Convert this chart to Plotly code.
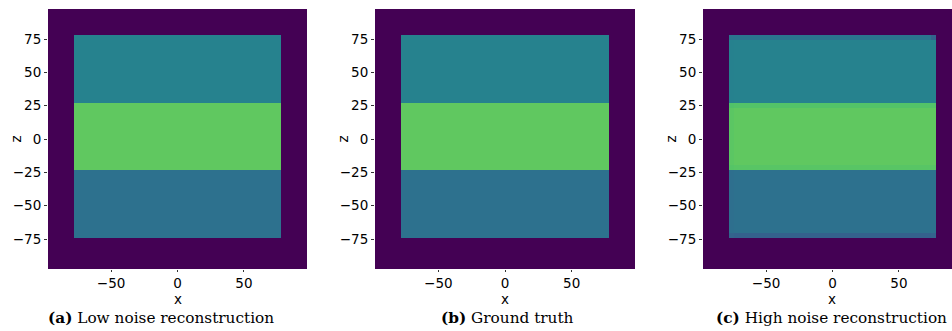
import plotly.graph_objects as go

# ---- data ----
# cell edges (x and z), values are viridis levels (0..1)
x_edges = [-97.5, -78.0, 78.0, 97.5]
z_edges = [-97.5, -74.1, -23.4, 27.3, 78.0, 97.5]
# rows bottom -> top : outside, lower layer, middle layer, upper layer, outside
layer_values_gt = [0.0, 0.37, 0.75, 0.445, 0.0]
layer_values_low = [0.0, 0.37, 0.75, 0.445, 0.0]

# high-noise reconstruction: edge rows/columns deviate slightly
x_edges_high = [-97.5, -78.0, -74.1, 74.1, 78.0, 97.5]
z_edges_high = [-97.5, -74.1, -70.2, -23.4, -19.5, 23.4, 27.3, 74.1, 78.0, 97.5]
high_rows = [
    [0.0, 0.0, 0.0, 0.0, 0.0],
    [0.0, 0.32, 0.31, 0.32, 0.0],
    [0.0, 0.365, 0.37, 0.37, 0.0],
    [0.0, 0.73, 0.735, 0.735, 0.0],
    [0.0, 0.74, 0.75, 0.75, 0.0],
    [0.0, 0.72, 0.725, 0.725, 0.0],
    [0.0, 0.44, 0.445, 0.445, 0.0],
    [0.0, 0.39, 0.39, 0.32, 0.0],
    [0.0, 0.0, 0.0, 0.0, 0.0],
]

x_ticks = [-50, 0, 50]
x_ticktext = ["\u221250", "0", "50"]
z_ticks = [-75, -50, -25, 0, 25, 50, 75]
z_ticktext = ["\u221275", "\u221250", "\u221225", "0", "25", "50", "75"]
captions = [("(a)", "Low noise reconstruction"),
            ("(b)", "Ground truth"),
            ("(c)", "High noise reconstruction")]
x_title = "x"
z_title = "z"

W, H = 952, 331

def grid(rows_vals, ncols):
    return [[v if (0 < j < ncols - 1) else 0.0 for j in range(ncols)] for v in rows_vals]

fig = go.Figure()
common = dict(colorscale="Viridis", zmin=0, zmax=1, showscale=False, hoverinfo="skip")
fig.add_trace(go.Heatmap(x=x_edges, y=z_edges, z=grid(layer_values_low, len(x_edges) - 1),
                         xaxis="x", yaxis="y", **common))
fig.add_trace(go.Heatmap(x=x_edges, y=z_edges, z=grid(layer_values_gt, len(x_edges) - 1),
                         xaxis="x2", yaxis="y2", **common))
fig.add_trace(go.Heatmap(x=x_edges_high, y=z_edges_high, z=high_rows,
                         xaxis="x3", yaxis="y3", **common))

panels = [  # (left px, right px, x range)
    (48, 307, [-97.5, 97.5]),
    (375, 635, [-97.5, 97.5]),
    (703, 952, [-97.5, 90.0]),
]
top_px, bot_px = 9, 269
tickfont = dict(family="DejaVu Sans", size=13.5, color="black")
lay = {}
annotations = []
for i, (l, r, xr) in enumerate(panels):
    sfx = "" if i == 0 else str(i + 1)
    lay["xaxis" + sfx] = dict(
        domain=[l / W, r / W], range=xr, anchor="y" + sfx,
        tickvals=x_ticks, ticktext=x_ticktext, ticks="outside", ticklen=2,
        tickcolor="#333", tickfont=tickfont, showgrid=False, zeroline=False,
        showline=False,
    )
    lay["yaxis" + sfx] = dict(
        domain=[1 - bot_px / H, 1 - top_px / H], range=[-97.5, 97.5], anchor="x" + sfx,
        tickvals=z_ticks, ticktext=z_ticktext, ticks="outside", ticklen=3,
        tickcolor="#333", tickfont=tickfont, showgrid=False, zeroline=False,
        showline=False,
    )
    # axis titles
    x0 = (0 - xr[0]) / (xr[1] - xr[0]) * (r - l) + l
    annotations.append(dict(
        x=x0 / W, y=1 - 299 / H, xref="paper", yref="paper", showarrow=False,
        text=x_title, xanchor="center", yanchor="middle", font=tickfont,
    ))
    annotations.append(dict(
        x=(l - 33) / W, y=1 - 139.5 / H, xref="paper", yref="paper", showarrow=False,
        text=z_title, xanchor="center", yanchor="middle", textangle=-90, font=tickfont,
    ))

cap_centers = [161, 507, 831]
for (tag, txt), cx in zip(captions, cap_centers):
    annotations.append(dict(
        x=cx / W, y=1 - 318 / H, xref="paper", yref="paper", showarrow=False,
        text=f"<b>{tag}</b> {txt}", xanchor="center", yanchor="middle",
        font=dict(family="DejaVu Serif", size=15.3, color="black"),
    ))

fig.update_layout(
    width=W, height=H, margin=dict(l=0, r=0, t=0, b=0),
    paper_bgcolor="white", plot_bgcolor="white",
    annotations=annotations, showlegend=False, **lay,
)
fig.write_html("out.html")
